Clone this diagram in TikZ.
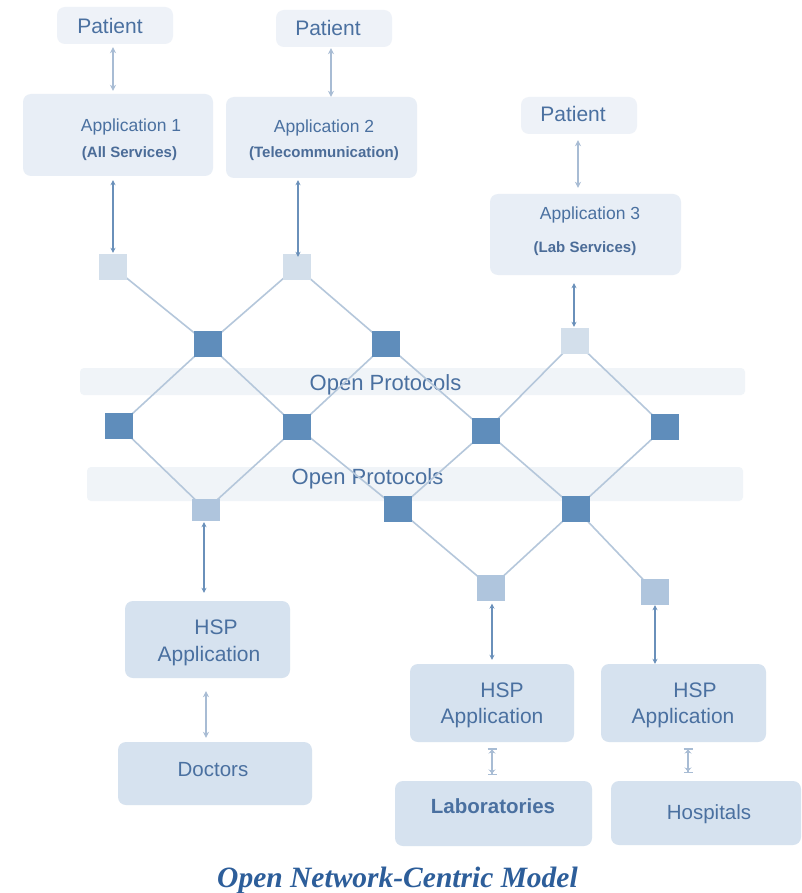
\documentclass[tikz,border=0pt]{standalone}
\usepackage{fontspec}
\setmainfont{Liberation Sans}
\newfontfamily\capfont{Liberation Serif}
\usetikzlibrary{arrows.meta}
\definecolor{txtc}{HTML}{4A70A0}
\definecolor{subc}{HTML}{4B6C98}
\definecolor{capc}{HTML}{2D5E9A}
\definecolor{linec}{HTML}{B5C7DB}
\definecolor{darksq}{HTML}{5F8DBB}
\definecolor{lightsq}{HTML}{D3DFEB}
\definecolor{midsq}{HTML}{AFC5DD}
\definecolor{patfill}{HTML}{EEF2F8}
\definecolor{appfill}{HTML}{E8EEF6}
\definecolor{hspfill}{HTML}{D6E2EF}
\definecolor{bandfill}{HTML}{F0F4F8}
\definecolor{arrlight}{HTML}{A8BCD4}
\definecolor{arrdark}{HTML}{6A90BA}
\tikzset{
  box/.style={rounded corners=8pt, inner sep=0pt, draw=none},
  sqnode/.style={minimum width=28pt, minimum height=26pt, inner sep=0pt, draw=none},
  lbl/.style={inner sep=0pt, text=txtc},
  big/.style={lbl, font=\fontsize{21}{24}\selectfont, text height=15pt, text depth=0pt},
  mid/.style={lbl, font=\fontsize{17.5}{20}\selectfont, text height=12.5pt, text depth=0pt},
  sub/.style={lbl, text=subc, font=\bfseries\fontsize{15}{18}\selectfont, text height=10.8pt, text depth=0pt},
  prot/.style={lbl, font=\fontsize{22}{24}\selectfont, text height=15.8pt, text depth=0pt},
  net/.style={draw=linec, line width=1.6pt},
  arrL/.style={draw=arrlight, line width=1.5pt, {Stealth[length=6pt,width=6pt]}-{Stealth[length=6pt,width=6pt]}},
  arrD/.style={draw=arrdark, line width=1.4pt, {Stealth[length=5pt,width=5pt]}-{Stealth[length=5pt,width=5pt]}},
}
\begin{document}
\begin{tikzpicture}[x=1pt,y=-1pt]
\useasboundingbox (0,0) rectangle (801,893);
\fill[white] (0,0) rectangle (801,893);

% bands
\node[box, rounded corners=4pt, fill=bandfill, minimum width=665pt, minimum height=27pt] (band1) at (412.5,381.5) {};
\node[box, rounded corners=4pt, fill=bandfill, minimum width=656pt, minimum height=34pt] (band2) at (415,484) {};
\node[prot] (prot1) at (385.5,383) {Open Protocols};
\node[prot] (prot2) at (367.5,477) {Open Protocols};

% square positions
\coordinate (a1) at (113,267);
\coordinate (a2) at (296.5,267);
\coordinate (l3) at (575,341);
\coordinate (d1) at (208,344);
\coordinate (d2) at (386,344);
\coordinate (e1) at (119,426);
\coordinate (e2) at (297,427);
\coordinate (e3) at (486,431);
\coordinate (e4) at (665,427);
\coordinate (f1) at (206,510);
\coordinate (f2) at (398,509);
\coordinate (f3) at (576,509);
\coordinate (g1) at (491,587.5);
\coordinate (g2) at (655,592);

% network lines
\draw[net] (a1) -- (d1) -- (a2) -- (d2);
\draw[net] (d1) -- (e1) -- (f1) -- (e2) -- (d1);
\draw[net] (d2) -- (e2) -- (f2) -- (e3) -- (d2);
\draw[net] (l3) -- (e3) -- (f3) -- (e4) -- (l3);
\draw[net] (f2) -- (g1) -- (f3) -- (g2);

% squares
\node[sqnode, fill=lightsq] (A1) at (a1) {};
\node[sqnode, fill=lightsq] (A2) at (a2) {};
\node[sqnode, fill=lightsq] (L3) at (l3) {};
\node[sqnode, fill=darksq] (D1) at (d1) {};
\node[sqnode, fill=darksq] (D2) at (d2) {};
\node[sqnode, fill=darksq] (E1) at (e1) {};
\node[sqnode, fill=darksq] (E2) at (e2) {};
\node[sqnode, fill=darksq] (E3) at (e3) {};
\node[sqnode, fill=darksq] (E4) at (e4) {};
\node[sqnode, fill=midsq, minimum height=22pt] (F1) at (f1) {};
\node[sqnode, fill=darksq] (F2) at (f2) {};
\node[sqnode, fill=darksq] (F3) at (f3) {};
\node[sqnode, fill=midsq] (G1) at (g1) {};
\node[sqnode, fill=midsq] (G2) at (g2) {};

% top boxes
\node[box, fill=patfill, minimum width=116pt, minimum height=37pt] (pat1) at (115,25.5) {};
\node[box, fill=patfill, minimum width=116pt, minimum height=37pt] (pat2) at (334,28.5) {};
\node[box, fill=patfill, minimum width=116pt, minimum height=37pt] (pat3) at (579,115.5) {};
\node[big] (pat1t) at (110,26) {Patient};
\node[big] (pat2t) at (328,28) {Patient};
\node[big] (pat3t) at (573,114) {Patient};

\node[box, fill=appfill, minimum width=190pt, minimum height=82pt] (app1) at (118,135) {};
\node[box, fill=appfill, minimum width=191pt, minimum height=81pt] (app2) at (321.5,137.5) {};
\node[box, fill=appfill, minimum width=191pt, minimum height=81pt] (app3) at (585.5,234.5) {};
\node[mid] (app1t) at (131,125) {Application 1};
\node[sub] (app1s) at (129.5,152) {(All Services)};
\node[mid] (app2t) at (324,126) {Application 2};
\node[sub] (app2s) at (324,152) {(Telecommunication)};
\node[mid] (app3t) at (590,213) {Application 3};
\node[sub] (app3s) at (585,247) {(Lab Services)};

% bottom boxes
\node[box, fill=hspfill, minimum width=165pt, minimum height=77pt] (hsp1) at (207.5,639.5) {};
\node[box, fill=hspfill, minimum width=164pt, minimum height=78pt] (hsp2) at (492,703) {};
\node[box, fill=hspfill, minimum width=165pt, minimum height=78pt] (hsp3) at (683.5,703) {};
\node[big] (hsp1a) at (216,627) {HSP};
\node[big] (hsp1b) at (209,654) {Application};
\node[big] (hsp2a) at (502,690) {HSP};
\node[big] (hsp2b) at (492,716) {Application};
\node[big] (hsp3a) at (695,690) {HSP};
\node[big] (hsp3b) at (683,716) {Application};

\node[box, fill=hspfill, minimum width=194pt, minimum height=63pt] (doc) at (215,773.5) {};
\node[box, fill=hspfill, minimum width=197pt, minimum height=65pt] (lab) at (493.5,813.5) {};
\node[box, fill=hspfill, minimum width=190pt, minimum height=64pt] (hos) at (706,813) {};
\node[big, font=\fontsize{20.5}{24}\selectfont] (doct) at (213,769) {Doctors};
\node[big, font=\bfseries\fontsize{20.5}{24}\selectfont] (labt) at (493,806) {Laboratories};
\node[big, font=\fontsize{20.5}{24}\selectfont] (host) at (709,812) {Hospitals};

% caption
\node[inner sep=0pt, text=capc, font=\capfont\bfseries\itshape\fontsize{29.5}{32}\selectfont, text height=19.5pt, text depth=0pt] (cap) at (397.5,878) {Open Network-Centric Model};

% arrows
\draw[arrL, shorten <=3pt, shorten >=3pt] (A1 |- pat1.south) -- (A1 |- app1.north);
\draw[arrL, shorten <=1pt, shorten >=0pt] ([xshift=-3pt]pat2.south) -- ([xshift=-3pt]pat2.south |- app2.north);
\draw[arrL, shorten <=6pt, shorten >=6pt] ([xshift=-1pt]pat3.south) -- ([xshift=-1pt]pat3.south |- app3.north);
\draw[arrD, shorten <=4pt, shorten >=1pt] (A1 |- app1.south) -- (A1.north);
\draw[arrD, shorten <=2pt, shorten >=-3pt] ([xshift=1.5pt]A2 |- app2.south) -- ([xshift=1.5pt]A2.north);
\draw[arrD, shorten <=8pt, shorten >=1pt] ([xshift=-1pt]L3 |- app3.south) -- ([xshift=-1pt]L3.north);
\draw[arrD, shorten <=1pt, shorten >=8pt] ([xshift=-2pt]F1.south) -- ([xshift=-2pt]F1.south |- hsp1.north);
\draw[arrL, shorten <=13pt, shorten >=4pt] ([xshift=-1.5pt]hsp1.south) -- ([xshift=-1.5pt]hsp1.south |- doc.north);
\draw[arrD, shorten <=3pt, shorten >=4pt] ([xshift=1pt]G1.south) -- ([xshift=1pt]G1.south |- hsp2.north);
\draw[arrD, shorten <=0pt, shorten >=0pt] (G2.south) -- (G2.south |- hsp3.north);
\draw[arrL, line width=1.3pt, {Bar[width=9pt]Stealth[length=4pt,width=7pt]}-{Stealth[length=4pt,width=7pt]Bar[width=9pt]}, shorten <=6pt, shorten >=6pt] (hsp2.south) -- (hsp2.south |- lab.north);
\draw[arrL, line width=1.3pt, {Bar[width=9pt]Stealth[length=4pt,width=7pt]}-{Stealth[length=4pt,width=7pt]Bar[width=9pt]}, shorten <=6pt, shorten >=8pt] ([xshift=4.5pt]hsp3.south) -- ([xshift=4.5pt]hsp3.south |- hos.north);
\end{tikzpicture}
\end{document}
